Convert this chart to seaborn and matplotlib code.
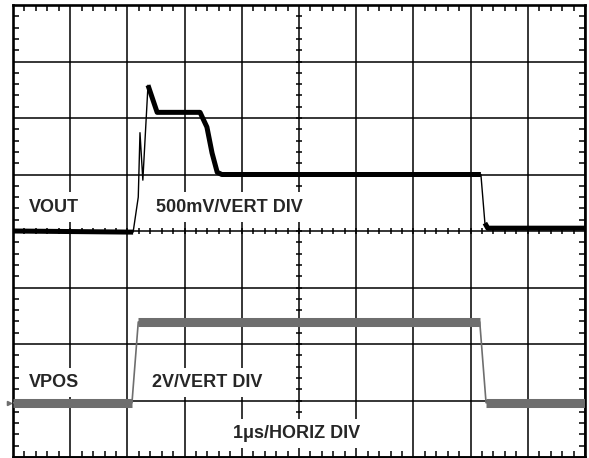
import numpy as np
import matplotlib
matplotlib.use("Agg")
import matplotlib.pyplot as plt
import seaborn as sns
from matplotlib.ticker import MultipleLocator

sns.set_style("white")
plt.rcParams['font.family'] = ['Liberation Sans', 'DejaVu Sans']

# scope screen: 10 horizontal divisions (1us/div), 8 vertical divisions
# VOUT: 500mV/div, 0V on the centre line (div 4)
vout_t = [0, 2.10, 2.19, 2.22, 2.27, 2.36, 2.52, 3.27, 3.39, 3.48, 3.57, 3.65, 8.18, 8.25, 8.30, 10]
vout_v = [0.0, -0.01, 0.30, 0.87, 0.45, 1.29, 1.05, 1.05, 0.92, 0.69, 0.52, 0.50, 0.50, 0.07, 0.025, 0.025]
VOUT_DIV, VOUT_ZERO = 0.5, 4.0

# VPOS: 2V/div, 0V at div 1
vpos_t = [0, 2.08, 2.19, 8.16, 8.27, 10]
vpos_v = [-0.08, -0.08, 2.78, 2.78, -0.08, -0.08]
VPOS_DIV, VPOS_ZERO = 2.0, 1.0

gray = "#6e6e6e"

fig = plt.figure(figsize=(5.89, 4.58), dpi=100)
ax = fig.add_axes([13 / 589, 1 / 458, 572 / 589, 452 / 458])
ax.set_xlim(0, 10)
ax.set_ylim(0, 8)


def draw_trace(t, v, per_div, zero, color, thin, thick):
    t = np.asarray(t, float)
    y = zero + np.asarray(v, float) / per_div
    # fast edges stay thin, settled parts show the noise band
    sns.lineplot(x=t, y=y, ax=ax, color=color, linewidth=thin, sort=False,
                 estimator=None, zorder=4)
    slow = np.abs(np.diff(y) / np.diff(t)) < 6
    i = 0
    while i < len(slow):
        if slow[i]:
            j = i
            while j < len(slow) and slow[j]:
                j += 1
            ax.plot(t[i:j + 1], y[i:j + 1], color=color, lw=thick,
                    solid_capstyle='butt', solid_joinstyle='round', zorder=4)
            i = j
        else:
            i += 1


draw_trace(vout_t, vout_v, VOUT_DIV, VOUT_ZERO, "black", 1.0, 3.6)
draw_trace(vpos_t, vpos_v, VPOS_DIV, VPOS_ZERO, gray, 1.2, 6.5)

# trigger marker at left edge
ax.plot([-0.07], [VPOS_ZERO + vpos_v[0] / VPOS_DIV], marker='>', ms=3,
        color=gray, clip_on=False, zorder=5)

# graticule
ax.xaxis.set_major_locator(MultipleLocator(1))
ax.yaxis.set_major_locator(MultipleLocator(1))
ax.xaxis.set_minor_locator(MultipleLocator(0.2))
ax.yaxis.set_minor_locator(MultipleLocator(0.2))
ax.grid(which='major', color='black', lw=1.1)
ax.tick_params(which='major', length=0, labelbottom=False, labelleft=False)
ax.tick_params(which='minor', direction='in', length=4, width=1.1,
               top=True, right=True, bottom=True, left=True, color='black')
for s in ax.spines.values():
    s.set_linewidth(1.9)
    s.set_color('black')

minor = np.arange(0.2, 10, 0.2)
ax.plot(minor, np.full_like(minor, 4.0), ls='none', marker='|', ms=5, mew=1.1,
        color='black', zorder=2)
minor_y = np.arange(0.2, 8, 0.2)
ax.plot(np.full_like(minor_y, 5.0), minor_y, ls='none', marker='_', ms=5, mew=1.1,
        color='black', zorder=2)

box = dict(boxstyle='square,pad=0.35', facecolor='white', edgecolor='none')
labels = [("VOUT", 0.28, 4.34), ("500mV/VERT DIV", 2.50, 4.34),
          ("VPOS", 0.28, 1.24), ("2V/VERT DIV", 2.43, 1.24),
          ("1\u03bcs/HORIZ DIV", 3.85, 0.336)]
for txt, x, y in labels:
    ax.text(x, y, txt, fontsize=13, fontweight='bold', ha='left', va='baseline',
            bbox=box, zorder=3)

fig.savefig("out.png", dpi=100)
